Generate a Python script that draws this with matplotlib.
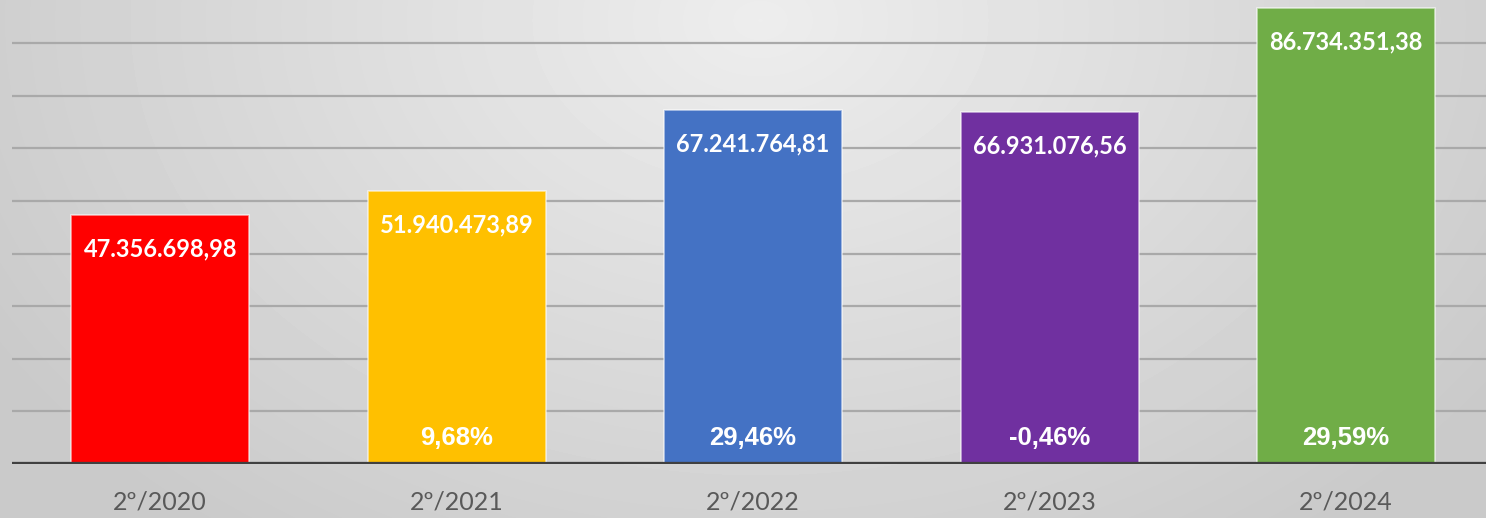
import matplotlib
matplotlib.use("Agg")
import matplotlib.pyplot as plt
import numpy as np

periods = ["2º/2020", "2º/2021", "2º/2022", "2º/2023", "2º/2024"]
values = [47356698.98, 51940473.89, 67241764.81, 66931076.56, 86734351.38]
growth = [None, 9.68, 29.46, -0.46, 29.59]
bar_colors = ["#FF0000", "#FFC000", "#4472C4", "#7030A0", "#70AD47"]


def br_number(v):
    s = f"{v:,.2f}"
    return s.replace(",", "X").replace(".", ",").replace("X", ".")


def br_percent(p):
    return f"{p:.2f}".replace(".", ",") + "%"


W, H = 1486, 518
fig = plt.figure(figsize=(W / 100, H / 100), dpi=100)

# radial gray gradient background
bg = fig.add_axes([0, 0, 1, 1], zorder=-10)
yy, xx = np.mgrid[0:H, 0:W]
d = np.sqrt(((xx - 760) / 900.0) ** 2 + ((yy - 20) / 650.0) ** 2)
d = np.clip(d, 0, 1)
shade = 0.93 - 0.14 * d
bg.imshow(shade, cmap="gray", vmin=0, vmax=1, aspect="auto", extent=(0, 1, 0, 1))
bg.set_axis_off()

ax = fig.add_axes([12 / W, (H - 464) / H, 1 - 12 / W, 464 / H])
ax.set_facecolor("none")

millions = np.array(values) / 1e6
x = np.arange(len(periods))
ax.bar(x, millions, width=0.6, color=bar_colors,
       edgecolor=(1, 1, 1, 0.6), linewidth=1.2, zorder=3)

ax.set_ylim(0, 88.2)
ax.set_xlim(-0.5, (W - 12 - 148) / 296.5)
for g in range(10, 90, 10):
    ax.axhline(g, color="#a9a9a9", linewidth=1.6, zorder=1)
ax.axhline(0, color="#404040", linewidth=3.8, zorder=4)

for i, v in enumerate(values):
    ax.annotate(br_number(v), (x[i], millions[i]), xytext=(0, -34),
                textcoords="offset pixels", ha="center", va="center",
                color="white", fontsize=17, fontweight="bold",
                family="Lato", zorder=5)
    if growth[i] is not None:
        ax.annotate(br_percent(growth[i]), (x[i], 0), xytext=(0, 26),
                    textcoords="offset pixels", ha="center", va="center",
                    color="white", fontsize=18.5, fontweight="bold",
                    family="Liberation Sans", zorder=5)

ax.set_xticks(x)
ax.set_xticklabels(periods, fontsize=18, color="#595959", family="Lato")
ax.tick_params(axis="x", length=0, pad=19)
ax.set_yticks([])
for s in ax.spines.values():
    s.set_visible(False)

fig.savefig("out.png", dpi=100)
